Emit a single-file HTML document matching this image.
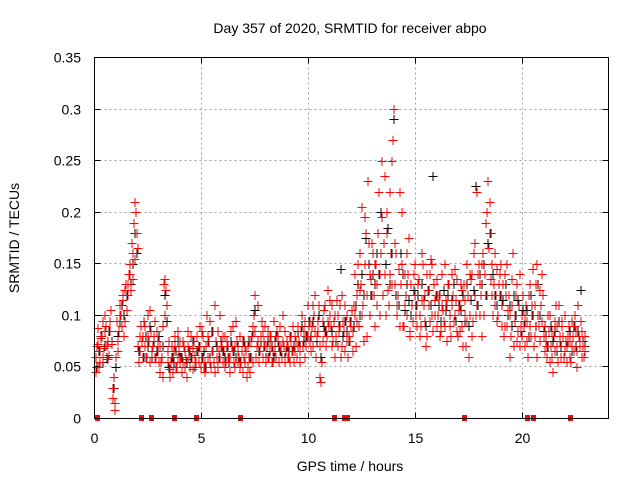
<!DOCTYPE html>
<html><head><meta charset="utf-8"><style>
html,body{margin:0;padding:0;background:#fff}
svg{display:block;font-family:"Liberation Sans",sans-serif}
</style></head><body>
<svg id="chart" width="640" height="480">
<text x="350" y="33" font-size="14" text-anchor="middle">Day 357 of 2020, SRMTID for receiver abpo</text>
<text x="350" y="471" font-size="14" text-anchor="middle">GPS time / hours</text>
<text transform="translate(19,238) rotate(-90)" font-size="14" text-anchor="middle">SRMTID / TECUs</text>
<g id="grid"></g>
<g id="ticks" shape-rendering="crispEdges"></g>
<g id="black-series" stroke="#000" stroke-width="1" shape-rendering="crispEdges"></g>
<g id="red-series" stroke="#f00" stroke-width="1" shape-rendering="crispEdges"></g>
<g id="zero-markers" fill="#f00"></g>
<rect x="94.5" y="57.5" width="514" height="361" fill="none" stroke="#000" stroke-width="1"/>
</svg>
<script>
const xTicks=[0,5,10,15,20];
const yTicks=[0,0.05,0.1,0.15,0.2,0.25,0.3,0.35];
const yTickLabels=["0","0.05","0.1","0.15","0.2","0.25","0.3","0.35"];
const zeroTimes=[0.1,2.15,2.66,3.69,4.72,6.78,11.17,11.64,11.78,17.24,20.19,20.47,22.2];
const redA=[60,72,55,80,68,90,75,85,20,8, 95,85,100,115,125,130,150,170,190,200, 70,65,80,90,60,75,85,70,95,65, 45,60,130,125,55,40,60,70,50,65, 60,55,65,70,50,60,75,55,65,70, 60,55,100,75,50,65,45,85,60,70, 65,55,70,60,90,50,75,60,55,45, 55,70,45,80,100,60,75,65,85,70, 70,60,80,55,65,75,90,60,70,65, 70,55,65,80,60,75,85,70,95,80, 75,90,100,60,85,40,95,110,80,90, 90,75,60,100,110,70,85,95,60,75, 85,100,120,90,130,110,150,80,140,120, 120,150,180,100,250,140,200,110,160,270, 130,100,220,150,90,120,140,80,110,150, 110,135,90,150,120,80,140,100,130,120, 100,120,140,90,110,130,80,120,100,135, 110,90,130,70,120,100,140,170,110,150, 120,160,140,200,180,150,130,120,100,140, 110,140,90,120,80,160,100,130,70,100, 90,110,60,130,100,80,150,90,110,120, 90,70,100,60,80,110,55,75,90,65, 70,90,55,80,100,65,75,85,60];
const redB=[45,88,65,95,100,70,62,105,30,15, 75,110,90,80,130,120,140,160,210,180, 55,90,60,70,100,55,65,80,60,75, 70,90,135,110,75,55,45,80,60,55, 45,70,58,85,65,48,62,80,55,50, 80,45,60,95,65,55,75,50,100,55, 50,75,60,85,65,70,55,80,65,60, 65,50,60,90,120,70,55,80,60,90, 85,70,55,95,60,80,65,100,55,75, 60,75,90,65,70,55,100,85,70,110, 95,70,120,80,110,35,75,85,125,100, 110,95,80,70,90,120,65,100,80,90, 65,140,95,160,205,75,180,230,100,170, 90,130,220,160,120,235,180,140,250,300, 160,120,90,200,140,100,175,130,95,120, 90,100,160,110,70,125,95,150,115,90, 120,85,105,150,75,100,140,95,115,80, 85,125,100,150,60,135,95,120,220,130, 150,100,190,230,210,120,160,95,130,150, 130,90,150,100,110,70,120,85,140,80, 70,95,120,80,145,110,60,125,95,80, 75,100,55,85,65,90,110,60,80,100, 55,75,95,65,85,110,70,60,80];
const redC=[70,50,78,60,85,58,95,72,40,60, 65,100,120,95,105,140,125,135,155,165, 80,75,95,60,80,105,70,60,85,55, 55,40,100,65,48,70,65,50,85,75, 75,50,40,60,80,68,55,65,90,85, 50,70,80,55,85,110,60,65,70,80, 80,60,45,70,55,95,65,50,75,70, 40,60,75,55,85,110,65,95,75,55, 60,80,65,75,85,55,70,75,85,60, 80,65,55,75,90,65,70,60,80,90, 65,110,85,95,70,55,105,70,95,115, 70,100,115,85,60,95,110,75,95,105, 110,70,150,125,100,195,120,170,135,160, 150,110,140,195,170,100,125,220,130,170, 110,145,130,90,110,160,85,110,140,100, 130,80,115,95,140,110,155,85,100,135, 80,110,95,115,130,90,110,145,85,105, 130,70,115,95,140,80,160,100,140,100, 80,140,120,165,135,100,110,145,120,90, 80,120,105,60,135,95,75,110,90,120, 100,75,90,110,70,130,100,75,140,65, 60,85,70,45,95,70,80,95,60,75, 80,60,70,90,50,80,95,70,65];
const blackVals=[50,65,80,55,70,60,85,75,30,50, 80,95,110,100,120,140,130,150,180,160, 65,75,60,80,70,90,60,75,65,80, 55,70,120,95,50,60,55,65,75,60, 60,70,55,65,60,75,50,65,70,60, 65,50,75,60,85,55,70,60,75,65, 60,70,55,75,65,60,70,55,65,75, 65,75,60,85,105,70,65,75,70,60, 75,65,70,60,80,70,65,75,60,70, 65,80,70,75,85,70,90,75,80,95, 80,95,85,75,100,60,90,85,95,100, 85,95,75,90,145,80,95,85,75,95, 90,110,130,100,140,120,175,150,120,140, 130,160,140,200,170,150,185,130,160,290, 120,110,160,140,105,130,115,100,125,110, 120,100,130,115,90,125,110,235,100,120, 110,95,125,105,120,100,115,130,95,110, 105,120,95,130,90,115,125,225,110,140, 130,150,120,170,180,140,120,110,130,120, 115,130,100,110,90,120,100,115,85,105, 95,105,80,120,100,90,130,100,95,85, 80,70,90,75,85,65,95,70,80,75, 75,85,65,90,70,85,125,75,70];
const sampleStep=0.1;
const L=94.5,R=608.5,T=57.5,B=418.5;
const xs=t=>L+t/24*(R-L);
const ys=v=>B-v/0.35*(B-T);
const NS='http://www.w3.org/2000/svg';
function mk(tag,attrs,parent){const e=document.createElementNS(NS,tag);for(const k in attrs)e.setAttribute(k,attrs[k]);parent.appendChild(e);return e;}
const grid=document.getElementById('grid'),ticks=document.getElementById('ticks');
xTicks.forEach(t=>{const x=Math.round(xs(t)-0.5)+0.5;
 if(t>0){const g=mk('line',{x1:x,x2:x,y1:T,y2:B,stroke:'#a0a0a0','stroke-dasharray':'2,3'},grid);}
 mk('line',{x1:x,x2:x,y1:B,y2:B-6,stroke:'#000'},ticks);mk('line',{x1:x,x2:x,y1:T,y2:T+6,stroke:'#000'},ticks);
 const lb=mk('text',{x:x,y:443,'font-size':14,'text-anchor':'middle'},ticks);lb.textContent=t;
 
 });
yTicks.forEach((v,i)=>{const y=Math.round(ys(v)-0.5)+0.5;
 if(i>0&&i<yTicks.length-1){const g=mk('line',{x1:L,x2:R,y1:y,y2:y,stroke:'#a0a0a0','stroke-dasharray':'2,3'},grid);}
 mk('line',{x1:L,x2:L+6,y1:y,y2:y,stroke:'#000'},ticks);mk('line',{x1:R,x2:R-6,y1:y,y2:y,stroke:'#000'},ticks);
 const lb=mk('text',{x:81,y:y+5,'font-size':14,'text-anchor':'end'},ticks);lb.textContent=yTickLabels[i];
 
 });
function plus(g,t,v,name){const x=Math.round(xs(t))+0.5,y=Math.round(ys(v))+0.5;const p=mk('path',{d:`M${x-4},${y}H${x+5}M${x+0.5},${y-4.5}V${y+4.5}`},g);
 
 }
const bg=document.getElementById('black-series'),rg=document.getElementById('red-series');
blackVals.forEach((v,i)=>plus(bg,i*sampleStep+0.05,v/1000,'black-point'));
redA.forEach((v,i)=>plus(rg,i*sampleStep,v/1000,'red-point'));
redB.forEach((v,i)=>plus(rg,i*sampleStep+0.033,v/1000,'red-point'));
redC.forEach((v,i)=>plus(rg,i*sampleStep+0.066,v/1000,'red-point'));
const zg=document.getElementById('zero-markers');
zeroTimes.forEach(t=>{const r=mk('rect',{x:Math.round(xs(t))-2,y:415,width:5,height:6},zg);
 
 });
</script>
</body></html>
